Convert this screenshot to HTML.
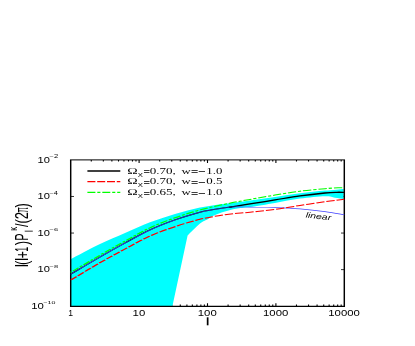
<!DOCTYPE html>
<html><head><meta charset="utf-8"><title>plot</title>
<style>
html,body{margin:0;padding:0;background:#fff;}
body{width:415px;height:346px;overflow:hidden;}
svg{display:block;}
text{fill:#000;}
</style></head><body>
<svg width="415" height="346" viewBox="0 0 415 346">
<rect width="415" height="346" fill="#fff"/>
<path d="M91.29,306.20 v-1.7 M91.29,159.90 v1.7 M103.34,306.20 v-1.7 M103.34,159.90 v1.7 M111.88,306.20 v-1.7 M111.88,159.90 v1.7 M118.51,306.20 v-1.7 M118.51,159.90 v1.7 M123.93,306.20 v-1.7 M123.93,159.90 v1.7 M128.50,306.20 v-1.7 M128.50,159.90 v1.7 M132.47,306.20 v-1.7 M132.47,159.90 v1.7 M135.97,306.20 v-1.7 M135.97,159.90 v1.7 M139.10,306.20 v-3.0 M139.10,159.90 v3.0 M159.69,306.20 v-1.7 M159.69,159.90 v1.7 M171.74,306.20 v-1.7 M171.74,159.90 v1.7 M180.28,306.20 v-1.7 M180.28,159.90 v1.7 M186.91,306.20 v-1.7 M186.91,159.90 v1.7 M192.33,306.20 v-1.7 M192.33,159.90 v1.7 M196.90,306.20 v-1.7 M196.90,159.90 v1.7 M200.87,306.20 v-1.7 M200.87,159.90 v1.7 M204.37,306.20 v-1.7 M204.37,159.90 v1.7 M207.50,306.20 v-3.0 M207.50,159.90 v3.0 M228.09,306.20 v-1.7 M228.09,159.90 v1.7 M240.14,306.20 v-1.7 M240.14,159.90 v1.7 M248.68,306.20 v-1.7 M248.68,159.90 v1.7 M255.31,306.20 v-1.7 M255.31,159.90 v1.7 M260.73,306.20 v-1.7 M260.73,159.90 v1.7 M265.30,306.20 v-1.7 M265.30,159.90 v1.7 M269.27,306.20 v-1.7 M269.27,159.90 v1.7 M272.77,306.20 v-1.7 M272.77,159.90 v1.7 M275.90,306.20 v-3.0 M275.90,159.90 v3.0 M296.49,306.20 v-1.7 M296.49,159.90 v1.7 M308.54,306.20 v-1.7 M308.54,159.90 v1.7 M317.08,306.20 v-1.7 M317.08,159.90 v1.7 M323.71,306.20 v-1.7 M323.71,159.90 v1.7 M329.13,306.20 v-1.7 M329.13,159.90 v1.7 M333.70,306.20 v-1.7 M333.70,159.90 v1.7 M337.67,306.20 v-1.7 M337.67,159.90 v1.7 M341.17,306.20 v-1.7 M341.17,159.90 v1.7" stroke="#000" stroke-width="1.1" fill="none"/>
<path d="M70.70,196.47 h3.3 M344.30,196.47 h-3.3 M70.70,233.05 h3.3 M344.30,233.05 h-3.3 M70.70,269.62 h3.3 M344.30,269.62 h-3.3" stroke="#000" stroke-width="0.8" fill="none"/>
<path d="M70.7,259.30 L70.70,259.30 C75.58,256.77 90.95,248.47 100.00,244.10 C109.05,239.73 116.67,236.73 125.00,233.10 C133.33,229.47 141.67,225.50 150.00,222.30 C158.33,219.10 166.67,216.37 175.00,213.90 C183.33,211.43 191.67,209.20 200.00,207.50 C208.33,205.80 216.67,204.88 225.00,203.70 C233.33,202.52 241.67,201.53 250.00,200.40 C258.33,199.27 266.67,198.08 275.00,196.90 C283.33,195.72 291.67,194.35 300.00,193.30 C308.33,192.25 317.72,191.33 325.00,190.60 C332.28,189.87 340.58,189.18 343.70,188.90 L343.70,199.10 C342.25,198.88 338.12,198.27 335.00,197.80 C331.88,197.33 330.83,196.17 325.00,196.30 C319.17,196.43 308.33,197.50 300.00,198.60 C291.67,199.70 283.33,201.50 275.00,202.90 C266.67,204.30 256.50,206.03 250.00,207.00 C243.50,207.97 240.17,207.97 236.00,208.70 C231.83,209.43 228.58,210.32 225.00,211.40 C221.42,212.48 217.47,213.87 214.50,215.20 C211.53,216.53 209.62,218.00 207.20,219.40 C204.78,220.80 203.27,220.92 200.00,223.60 C196.73,226.28 189.67,233.52 187.60,235.50 L172.4,306.2 L70.7,306.2 Z" fill="#00ffff"/>
<path d="M69.98,159.9 H345.02000000000004" stroke="#000" stroke-width="1" fill="none"/>
<path d="M69.98,306.4 H345.02000000000004" stroke="#000" stroke-width="1.15" fill="none"/>
<path d="M70.7,159.9 V306.7 M344.3,159.9 V306.7" stroke="#000" stroke-width="1.45" fill="none"/>
<g transform="scale(1.86,1)" fill="none">
<path d="M38.01,274.20 C40.64,271.33 48.90,262.20 53.76,257.00 C58.63,251.80 62.72,247.52 67.20,243.00 C71.68,238.48 76.16,233.75 80.65,229.90 C85.13,226.05 89.61,222.85 94.09,219.90 C98.57,216.95 103.05,214.22 107.53,212.20 C112.01,210.18 118.10,208.70 120.97,207.80 C123.84,206.90 124.10,206.97 124.73,206.80" stroke="#000" stroke-width="1.0"/>
<path d="M123.12,207.30 C125.00,206.73 130.29,205.13 134.41,203.90 C138.53,202.67 143.37,201.23 147.85,199.90 C152.33,198.57 156.81,197.05 161.29,195.90 C165.77,194.75 171.42,193.60 174.73,193.00 C178.05,192.40 179.45,192.40 181.18,192.30 C182.91,192.20 184.45,192.38 185.11,192.40" stroke="#000" stroke-width="1.3"/>
<path d="M38.01,274.20 C40.64,271.33 48.90,262.20 53.76,257.00 C58.63,251.80 62.72,247.52 67.20,243.00 C71.68,238.48 76.16,233.75 80.65,229.90 C85.13,226.05 89.61,222.85 94.09,219.90 C98.57,216.95 103.05,214.22 107.53,212.20 C112.01,210.18 118.10,208.67 120.97,207.80 C123.84,206.93 123.39,207.15 124.73,207.00 C126.08,206.85 127.42,206.88 129.03,206.90 C130.65,206.92 131.27,206.98 134.41,207.10 C137.54,207.22 143.37,207.30 147.85,207.60 C152.33,207.90 156.81,208.23 161.29,208.90 C165.77,209.57 170.76,210.62 174.73,211.60 C178.70,212.58 183.38,214.27 185.11,214.80" stroke="#4444ff" stroke-width="0.6"/>
<path d="M38.01,272.40 C40.64,269.53 48.90,260.40 53.76,255.20 C58.63,250.00 62.72,245.77 67.20,241.20 C71.68,236.63 76.16,231.70 80.65,227.80 C85.13,223.90 89.61,220.78 94.09,217.80 C98.57,214.82 103.05,212.17 107.53,209.90 C112.01,207.63 116.49,205.95 120.97,204.20 C125.45,202.45 129.93,200.92 134.41,199.40 C138.89,197.88 143.37,196.47 147.85,195.10 C152.33,193.73 156.81,192.27 161.29,191.20 C165.77,190.13 171.33,189.27 174.73,188.70 C178.14,188.13 179.99,187.93 181.72,187.80 C183.45,187.67 184.54,187.88 185.11,187.90" stroke="#00ff00" stroke-width="1.05" stroke-dasharray="4.50 1.07 1.74 1.07" stroke-dashoffset="6.46"/>
<path d="M38.01,280.10 C40.64,277.20 48.90,267.88 53.76,262.70 C58.63,257.52 62.72,253.45 67.20,249.00 C71.68,244.55 76.16,239.72 80.65,236.00 C85.13,232.28 89.61,229.48 94.09,226.70 C98.57,223.92 103.05,221.30 107.53,219.30 C112.01,217.30 116.49,215.88 120.97,214.70 C125.45,213.52 129.93,213.07 134.41,212.20 C138.89,211.33 143.37,210.62 147.85,209.50 C152.33,208.38 156.81,206.80 161.29,205.50 C165.77,204.20 170.76,202.75 174.73,201.70 C178.70,200.65 183.38,199.62 185.11,199.20" stroke="#ff0000" stroke-width="1.05" stroke-dasharray="4.57 1.055" stroke-dashoffset="5.34"/>
</g>
<path d="M87.4,171.0 H120.3" stroke="#000" stroke-width="1.3" fill="none"/>
<path d="M87.4,181.6 H120.3" stroke="#f00" stroke-width="1.3" fill="none" stroke-dasharray="8 1.8"/>
<path d="M87.4,192.4 H120.3" stroke="#0f0" stroke-width="1.3" fill="none" stroke-dasharray="8 1.9 3.1 1.9"/>
<path d="M144.00,170.50 H149.50 M144.00,172.50 H149.50 M191.50,170.50 H197.70 M191.50,172.50 H197.70 M198.7,171.50 H205 M144.00,181.50 H149.50 M144.00,183.50 H149.50 M191.50,181.50 H197.70 M191.50,183.50 H197.70 M198.7,182.50 H205 M144.00,192.50 H149.50 M144.00,194.50 H149.50 M191.50,192.50 H197.70 M191.50,194.50 H197.70 M198.7,193.50 H205" stroke="#000" stroke-width="0.75" fill="none"/>
<defs><filter id="b" x="-5%" y="-5%" width="110%" height="110%"><feGaussianBlur stdDeviation="0.15"/></filter></defs>
<g filter="url(#b)">
<text font-family='"Liberation Sans",sans-serif' font-style="normal" font-size="8.58" transform="translate(68.20,315.90) scale(1.0007,1.0000)" >1</text>
<text font-family='"Liberation Sans",sans-serif' font-style="normal" font-size="8.33" transform="translate(132.56,315.82) scale(1.3666,1.0000)" >10</text>
<text font-family='"Liberation Sans",sans-serif' font-style="normal" font-size="8.33" transform="translate(197.79,315.82) scale(1.3666,1.0000)" >100</text>
<text font-family='"Liberation Sans",sans-serif' font-style="normal" font-size="8.33" transform="translate(263.02,315.82) scale(1.3666,1.0000)" >1000</text>
<text font-family='"Liberation Sans",sans-serif' font-style="normal" font-size="8.33" transform="translate(328.26,315.82) scale(1.3666,1.0000)" >10000</text>
<text font-family='"Liberation Sans",sans-serif' font-style="normal" font-size="8.33" transform="translate(37.45,162.77) scale(1.3359,1.0000)" >10</text>
<text font-family='"Liberation Sans",sans-serif' font-style="normal" font-size="4.44" transform="translate(49.53,158.10) scale(1.7101,1.0000)" >−2</text>
<text font-family='"Liberation Sans",sans-serif' font-style="normal" font-size="8.33" transform="translate(37.45,199.34) scale(1.3359,1.0000)" >10</text>
<text font-family='"Liberation Sans",sans-serif' font-style="normal" font-size="4.51" transform="translate(49.53,194.67) scale(1.6516,1.0000)" >−4</text>
<text font-family='"Liberation Sans",sans-serif' font-style="normal" font-size="8.33" transform="translate(37.45,235.92) scale(1.3359,1.0000)" >10</text>
<text font-family='"Liberation Sans",sans-serif' font-style="normal" font-size="4.38" transform="translate(49.53,231.21) scale(1.7235,1.0000)" >−6</text>
<text font-family='"Liberation Sans",sans-serif' font-style="normal" font-size="8.33" transform="translate(37.45,272.49) scale(1.3359,1.0000)" >10</text>
<text font-family='"Liberation Sans",sans-serif' font-style="normal" font-size="4.38" transform="translate(49.53,267.78) scale(1.7227,1.0000)" >−8</text>
<text font-family='"Liberation Sans",sans-serif' font-style="normal" font-size="8.33" transform="translate(31.24,309.07) scale(1.3600,1.0000)" >10</text>
<text font-family='"Liberation Sans",sans-serif' font-style="normal" font-size="4.38" transform="translate(43.45,304.36) scale(1.6051,1.0000)" >−10</text>
<text font-family='"Liberation Serif",serif' font-style="normal" font-size="8.31" transform="translate(127.27,173.70) scale(1.6938,1.0000)" >Ω</text>
<text font-family='"Liberation Sans",sans-serif' font-style="normal" font-size="4.65" transform="translate(137.82,176.60) scale(1.6895,1.0000)" >X</text>
<text font-family='"Liberation Serif",serif' font-style="normal" font-size="8.10" transform="translate(149.70,173.70) scale(1.6123,1.0000)" >0.70,</text>
<text font-family='"Liberation Serif",serif' font-style="normal" font-size="8.10" transform="translate(181.59,173.70) scale(1.5673,1.0000)" >w</text>
<text font-family='"Liberation Serif",serif' font-style="normal" font-size="8.10" transform="translate(206.37,173.70) scale(1.5816,1.0000)" >1.0</text>
<text font-family='"Liberation Serif",serif' font-style="normal" font-size="8.31" transform="translate(127.27,184.30) scale(1.6938,1.0000)" >Ω</text>
<text font-family='"Liberation Sans",sans-serif' font-style="normal" font-size="4.65" transform="translate(137.82,187.20) scale(1.6895,1.0000)" >X</text>
<text font-family='"Liberation Serif",serif' font-style="normal" font-size="8.10" transform="translate(149.70,184.30) scale(1.6123,1.0000)" >0.70,</text>
<text font-family='"Liberation Serif",serif' font-style="normal" font-size="8.10" transform="translate(181.59,184.30) scale(1.5673,1.0000)" >w</text>
<text font-family='"Liberation Serif",serif' font-style="normal" font-size="8.10" transform="translate(206.31,184.30) scale(1.5895,1.0000)" >0.5</text>
<text font-family='"Liberation Serif",serif' font-style="normal" font-size="8.31" transform="translate(127.27,195.10) scale(1.6938,1.0000)" >Ω</text>
<text font-family='"Liberation Sans",sans-serif' font-style="normal" font-size="4.65" transform="translate(137.82,198.00) scale(1.6895,1.0000)" >X</text>
<text font-family='"Liberation Serif",serif' font-style="normal" font-size="8.10" transform="translate(149.70,195.10) scale(1.6123,1.0000)" >0.65,</text>
<text font-family='"Liberation Serif",serif' font-style="normal" font-size="8.10" transform="translate(181.59,195.10) scale(1.5673,1.0000)" >w</text>
<text font-family='"Liberation Serif",serif' font-style="normal" font-size="8.10" transform="translate(206.37,195.10) scale(1.5816,1.0000)" >1.0</text>
<text font-family='"Liberation Sans",sans-serif' font-style="normal" font-size="18.50" transform="translate(27.60,266.50) rotate(-90.00) translate(-0.80,0.00) scale(0.7995,1.0000)" >l</text>
<text font-family='"Liberation Sans",sans-serif' font-style="normal" font-size="18.50" transform="translate(27.60,266.50) rotate(-90.00) translate(1.38,0.00) scale(0.7136,1.0000)" >(</text>
<text font-family='"Liberation Sans",sans-serif' font-style="normal" font-size="18.50" transform="translate(27.60,266.50) rotate(-90.00) translate(5.40,0.00) scale(0.7995,1.0000)" >l</text>
<text font-family='"Liberation Sans",sans-serif' font-style="normal" font-size="17.78" transform="translate(27.60,266.50) rotate(-90.00) translate(8.21,1.46) scale(0.6829,1.0000)" >+</text>
<text font-family='"Liberation Sans",sans-serif' font-style="normal" font-size="18.50" transform="translate(27.60,266.50) rotate(-90.00) translate(14.71,0.00) scale(0.4889,1.0000)" >1</text>
<text font-family='"Liberation Sans",sans-serif' font-style="normal" font-size="18.50" transform="translate(27.60,266.50) rotate(-90.00) translate(21.32,0.00) scale(0.7136,1.0000)" >)</text>
<text font-family='"Liberation Sans",sans-serif' font-style="normal" font-size="18.50" transform="translate(27.60,266.50) rotate(-90.00) translate(26.04,0.00) scale(0.5687,1.0000)" >P</text>
<text font-family='"Liberation Sans",sans-serif' font-style="normal" font-size="18.50" transform="translate(27.60,266.50) rotate(-90.00) translate(39.50,0.00) scale(0.6970,1.0000)" >/(2</text>
<text font-family='"Liberation Sans",sans-serif' font-style="normal" font-size="18.50" transform="translate(27.60,266.50) rotate(-90.00) translate(54.00,0.00) scale(0.4182,1.0000)" >π</text>
<text font-family='"Liberation Sans",sans-serif' font-style="normal" font-size="18.50" transform="translate(27.60,266.50) rotate(-90.00) translate(59.12,0.00) scale(0.6932,1.0000)" >)</text>
<text font-family='"Liberation Sans",sans-serif' font-style="normal" font-size="10.60" transform="translate(27.60,266.50) rotate(-90.00) translate(35.67,-10.50) scale(0.7390,1.0000)" >κ</text>
<rect x="24.7" y="230.7" width="8.1" height="0.9" fill="#222"/>
<text font-family='"Liberation Sans",sans-serif' font-style="italic" font-size="7.76" transform="translate(305.60,217.60) rotate(6.20) translate(-0.17,-0.08) scale(1.3494,1.0000)" >linear</text>
</g>
<rect x="206.8" y="317.3" width="1.7" height="8" fill="#000"/>
</svg>
</body></html>
